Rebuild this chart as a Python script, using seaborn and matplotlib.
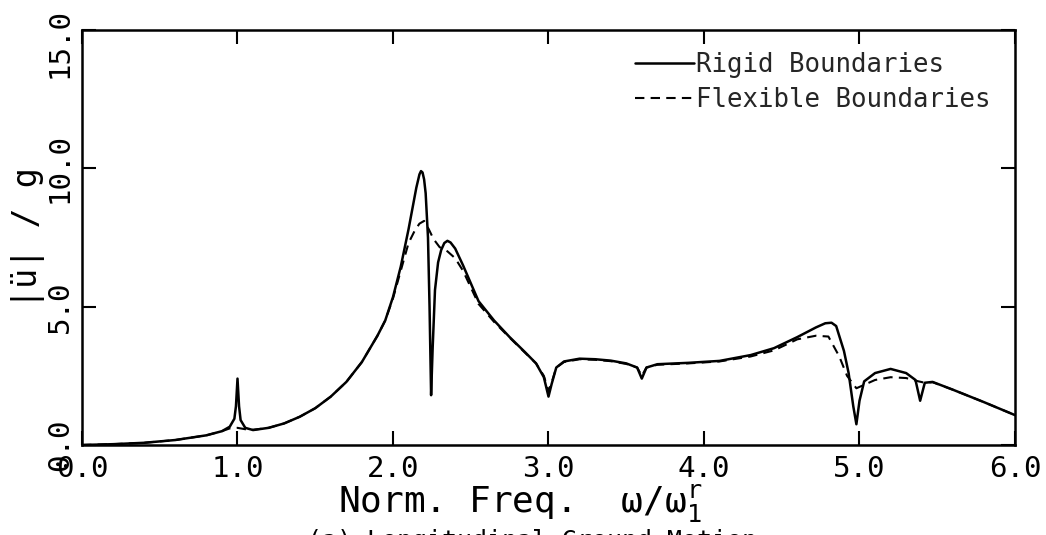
import matplotlib
matplotlib.use("Agg")
import matplotlib.pyplot as plt
import matplotlib.transforms as mtrans
import seaborn as sns
import pandas as pd

# rigid boundaries (solid)
rigid_x = [0.00, 0.20, 0.40, 0.60, 0.80, 0.90, 0.95, 0.98, 0.99, 1.00, 1.01, 1.02,
           1.05, 1.10, 1.20, 1.30, 1.40, 1.50, 1.60, 1.70, 1.80, 1.90, 1.95, 2.00,
           2.05, 2.10, 2.13, 2.15, 2.17, 2.18, 2.19, 2.20, 2.21, 2.225, 2.235,
           2.245, 2.255, 2.27, 2.29, 2.31, 2.33, 2.35, 2.37, 2.40, 2.45, 2.55,
           2.65, 2.75, 2.85, 2.92, 2.97, 3.00, 3.02,
           3.05, 3.10, 3.20, 3.30, 3.40, 3.50, 3.57, 3.60, 3.63, 3.70, 3.90, 4.10,
           4.30, 4.45, 4.60, 4.72, 4.78, 4.82, 4.85, 4.90, 4.93, 4.96, 4.98, 5.00,
           5.03, 5.10, 5.20, 5.30, 5.36, 5.39, 5.42, 5.47, 5.60, 5.80, 6.00]
rigid_y = [0.00, 0.03, 0.08, 0.18, 0.35, 0.50, 0.66, 0.95, 1.40, 2.40, 1.40, 0.90,
           0.62, 0.54, 0.62, 0.78, 1.02, 1.33, 1.75, 2.28, 3.00, 3.95, 4.50, 5.35,
           6.45, 7.80, 8.70, 9.30, 9.78, 9.90, 9.85, 9.60, 9.10, 7.50, 5.00,
           1.80, 3.50, 5.60, 6.60, 7.05, 7.30, 7.38, 7.32, 7.10, 6.50, 5.20,
           4.50, 3.90, 3.35, 2.95, 2.45, 1.75, 2.20,
           2.80, 3.02, 3.12, 3.10, 3.05, 2.95, 2.80, 2.40, 2.80, 2.92, 2.97, 3.04,
           3.25, 3.50, 3.90, 4.25, 4.40, 4.42, 4.30, 3.40, 2.60, 1.40, 0.75, 1.60,
           2.30, 2.60, 2.75, 2.60, 2.35, 1.60, 2.25, 2.28, 2.00, 1.55, 1.08]

# flexible boundaries (dashed)
flex_x = [0.00, 0.20, 0.40, 0.60, 0.80, 0.90, 0.95, 1.00, 1.05, 1.10, 1.20, 1.30,
          1.40, 1.50, 1.60, 1.70, 1.80, 1.90, 1.95, 2.00, 2.05, 2.10, 2.14, 2.17,
          2.20, 2.23, 2.26, 2.30, 2.35, 2.40, 2.45, 2.55, 2.65, 2.75, 2.85, 2.92,
          2.97, 3.00, 3.02, 3.05, 3.10, 3.20, 3.30, 3.40, 3.50, 3.57, 3.60, 3.63,
          3.70, 3.90, 4.10, 4.30, 4.45, 4.60, 4.72, 4.80, 4.87, 4.92, 4.98, 5.02,
          5.10, 5.20, 5.30, 5.38, 5.42, 5.47, 5.60, 5.80, 6.00]
flex_y = [0.00, 0.03, 0.08, 0.18, 0.35, 0.50, 0.60, 0.62, 0.57, 0.55, 0.62, 0.78,
          1.02, 1.33, 1.75, 2.28, 3.00, 3.95, 4.50, 5.30, 6.30, 7.30, 7.75, 8.00,
          8.10, 7.80, 7.45, 7.15, 7.00, 6.75, 6.30, 5.10, 4.45, 3.88, 3.33, 2.95,
          2.50, 1.95, 2.25, 2.80, 3.00, 3.10, 3.08, 3.03, 2.93, 2.80, 2.50, 2.80,
          2.90, 2.95, 3.02, 3.20, 3.42, 3.82, 3.95, 3.92, 3.20, 2.50, 2.05, 2.15,
          2.35, 2.45, 2.42, 2.30, 2.25, 2.27, 2.00, 1.55, 1.08]

x_ticks = [0, 1, 2, 3, 4, 5, 6]
x_tick_labels = ["0.0", "1.0", "2.0", "3.0", "4.0", "5.0", "6.0"]
y_ticks = [0, 5, 10, 15]
y_tick_labels = ["0.0", "5.0", "10.0", "15.0"]

sns.set_style("ticks")
plt.rcParams["font.family"] = ["DejaVu Sans Mono", "DejaVu Sans"]
plt.rcParams["mathtext.fontset"] = "dejavusans"

rigid = pd.DataFrame({"freq": rigid_x, "acc": rigid_y})
flex = pd.DataFrame({"freq": flex_x, "acc": flex_y})

fig = plt.figure(figsize=(10.46, 5.35), dpi=100)
ax = fig.add_axes([82 / 1046, 1 - 445 / 535, 933 / 1046, 415 / 535])

sns.lineplot(data=rigid, x="freq", y="acc", ax=ax, color="black", lw=1.8,
             label="Rigid Boundaries")
sns.lineplot(data=flex, x="freq", y="acc", ax=ax, color="black", lw=1.5,
             linestyle=(0, (4.5, 3)), label="Flexible Boundaries")

ax.set_xlim(0, 6)
ax.set_ylim(0, 15)
ax.set_xticks(x_ticks)
ax.set_xticklabels(x_tick_labels, fontsize=21)
ax.set_yticks(y_ticks)
ax.set_yticklabels(y_tick_labels, fontsize=21, rotation=90, va="center")
ax.tick_params(direction="in", length=10, width=1.5, top=True, right=True,
               color="black", labelcolor="black")
ax.tick_params(axis="x", pad=7)
ax.tick_params(axis="y", pad=6)
for s in ax.spines.values():
    s.set_linewidth(1.8)
    s.set_color("black")

# top label sits a bit lower so it stays inside the picture
top_lab = ax.get_yticklabels()[-1]
top_lab.set_transform(top_lab.get_transform() +
                      mtrans.ScaledTranslation(0, -13 / 100, fig.dpi_scale_trans))

ax.set_xlabel(r"Norm. Freq.  $\mathregular{ω/ω_1^r}$", fontsize=26, color="black")
ax.xaxis.set_label_coords(0.47, -0.09)
ax.set_ylabel("|ü| / g", fontsize=24, color="black")
ax.yaxis.set_label_coords(-0.040, 0.5)

ax.legend(loc="upper right", bbox_to_anchor=(0.974, 0.948), frameon=False,
          fontsize=18.5, handlelength=2.3, handletextpad=0.1, labelspacing=0.35,
          borderpad=0, borderaxespad=0)

# caption mostly falls below the bottom edge, as in the scan
fig.text(307 / 1046, 1 - 529 / 535, "(a) Longitudinal Ground Motion",
         fontsize=18, ha="left", va="top", color="black")

fig.savefig("out.png", dpi=100)
